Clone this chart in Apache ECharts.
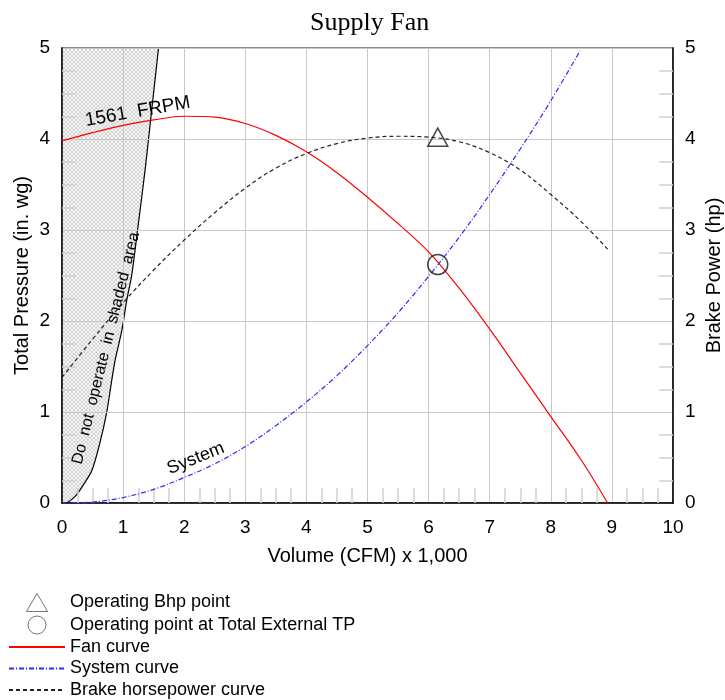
<!DOCTYPE html>
<html>
<head>
<meta charset="utf-8">
<script src="https://cdn.jsdelivr.net/npm/echarts@6/dist/echarts.min.js"></script>
<style>html,body{margin:0;padding:0;background:#fff}#c{width:725px;height:700px}</style>
</head>
<body>
<div id="c"></div>
<script>
// ---- data ----
const titleText = 'Supply Fan';
const fanVolume   = [0, 0.5, 1.0, 1.5, 2.0, 2.5, 3.0, 3.5, 4.0, 4.5, 5.0, 5.5, 6.0, 6.5, 7.0, 7.5, 8.0, 8.5, 8.93];
const fanPressure = [3.98, 4.07, 4.15, 4.21, 4.25, 4.24, 4.17, 4.04, 3.86, 3.63, 3.36, 3.07, 2.76, 2.36, 1.91, 1.43, 0.95, 0.47, 0];
const systemVolume   = [0, 0.5, 1.0, 1.5, 2.0, 2.5, 3.0, 3.5, 4.0, 4.5, 5.0, 5.5, 6.0, 6.5, 7.0, 7.5, 8.0, 8.48];
const systemPressure = [0, 0.01, 0.06, 0.15, 0.28, 0.43, 0.62, 0.85, 1.11, 1.40, 1.73, 2.09, 2.49, 2.92, 3.39, 3.89, 4.42, 4.97];
const bhpVolume = [0, 0.5, 1.0, 1.5, 2.0, 2.5, 3.0, 3.5, 4.0, 4.5, 5.0, 5.5, 6.0, 6.5, 7.0, 7.5, 8.0, 8.5, 8.93];
const bhpPower  = [1.38, 1.80, 2.20, 2.56, 2.89, 3.19, 3.46, 3.68, 3.84, 3.95, 4.01, 4.03, 4.02, 3.97, 3.85, 3.66, 3.39, 3.09, 2.79];
const limitVolume   = [0, 0.05, 0.21, 0.35, 0.49, 0.62, 0.73, 0.81, 0.87, 0.98, 1.06, 1.14, 1.25, 1.36, 1.47, 1.58];
const limitPressure = [0, 0, 0.07, 0.20, 0.36, 0.66, 0.99, 1.33, 1.57, 1.90, 2.23, 2.50, 3.07, 3.66, 4.33, 5.0];
const opBhpPoint = [6.15, 4.02];
const opTpPoint  = [6.15, 2.62];
const annotations = [
  { text: '1561  FRPM', x: 1.24, y: 4.30, rotate: 10, size: 19 },
  { text: 'Do  not  operate  in  shaded  area', x: 0.72, y: 1.70, rotate: 76, size: 16 },
  { text: 'System', x: 2.19, y: 0.49, rotate: 22, size: 18 }
];
const xName = 'Volume (CFM) x 1,000';
const yLeftName = 'Total Pressure (in. wg)';
const yRightName = 'Brake Power (hp)';
const legendNames = ['Operating Bhp point', 'Operating point at Total External TP', 'Fan curve', 'System curve', 'Brake horsepower curve'];

const zip = (a, b) => a.map((v, i) => [v, b[i]]);
const FONT = "'Liberation Sans', Arial, sans-serif";

function makePattern() {
  const c = document.createElement('canvas');
  c.width = 4; c.height = 4;
  const g = c.getContext('2d');
  g.fillStyle = '#f7f7f7'; g.fillRect(0, 0, 4, 4);
  g.fillStyle = '#d4d4d4';
  for (let i = 0; i < 4; i++) { g.fillRect(i, i, 1, 1); g.fillRect(3 - i, i, 1, 1); }
  return c;
}

const chart = echarts.init(document.getElementById('c'), null, { renderer: 'canvas' });

const valueAxisCommon = {
  type: 'value', min: 0, max: 5, interval: 1, z: 1,
  axisLine: { show: true, lineStyle: { color: '#000', width: 1.5 } },
  axisTick: { show: false, inside: true },
  minorTick: { show: true, splitNumber: 4, length: 14, lineStyle: { color: '#cfcfcf', width: 1.5 } },
  axisLabel: { color: '#000', fontSize: 19, fontFamily: FONT },
  nameLocation: 'middle', nameRotate: 90, nameMoveOverlap: false,
  nameTextStyle: { color: '#000', fontSize: 20, fontFamily: FONT }
};

const lineLegend = { itemStyle: { opacity: 0 } };

chart.setOption({
  animation: false,
  backgroundColor: '#fff',
  title: {
    text: titleText, left: 305, top: 5,
    textStyle: { fontFamily: "'Liberation Serif', 'Times New Roman', serif", fontWeight: 'normal', fontSize: 26, color: '#000' }
  },
  grid: { left: 62, right: 52, top: 48, bottom: 197, show: true, borderColor: '#666', borderWidth: 1.5, backgroundColor: 'transparent', containLabel: false, outerBoundsMode: 'none' },
  legend: {
    orient: 'vertical', left: 8, top: 593, padding: 0,
    itemWidth: 56, itemHeight: 18, itemGap: 3.5,
    data: [
      { name: legendNames[0], icon: 'path://M10,0 L20,17 L0,17 Z', itemStyle: { color: 'rgba(0,0,0,0)', borderColor: '#555', borderWidth: 1 } },
      { name: legendNames[1], icon: 'circle', itemStyle: { color: 'rgba(0,0,0,0)', borderColor: '#555', borderWidth: 1 } },
      Object.assign({ name: legendNames[2] }, lineLegend),
      Object.assign({ name: legendNames[3] }, lineLegend),
      Object.assign({ name: legendNames[4] }, lineLegend)
    ],
    textStyle: { color: '#000', fontSize: 18, fontFamily: FONT, lineHeight: 18 },
    selectedMode: false
  },
  xAxis: {
    type: 'value', min: 0, max: 10, interval: 1, z: 1,
    axisLine: { show: true, onZero: false, lineStyle: { color: '#000', width: 1.5 } },
    axisTick: { show: false, inside: true },
    minorTick: { show: true, splitNumber: 4, length: 15, lineStyle: { color: '#cfcfcf', width: 1.5 } },
    splitLine: { show: true, lineStyle: { color: '#c8c8c8', width: 1 } },
    axisLabel: { color: '#000', fontSize: 19, fontFamily: FONT, margin: 15 },
    name: xName, nameLocation: 'middle', nameGap: 43, nameMoveOverlap: false,
    nameTextStyle: { color: '#000', fontSize: 20, fontFamily: FONT }
  },
  yAxis: [
    Object.assign({}, valueAxisCommon, {
      position: 'left', name: yLeftName, nameGap: 30,
      splitLine: { show: true, lineStyle: { color: '#c8c8c8', width: 1 } },
      axisLabel: Object.assign({}, valueAxisCommon.axisLabel, { margin: 12 })
    }),
    Object.assign({}, valueAxisCommon, {
      position: 'right', name: yRightName, nameGap: 31,
      splitLine: { show: false },
      axisLabel: Object.assign({}, valueAxisCommon.axisLabel, { margin: 12 })
    })
  ],
  series: [
    {
      name: 'limit', type: 'line', data: zip(limitVolume, limitPressure),
      smooth: 0.3, symbol: 'none', z: 0,
      lineStyle: { color: '#000', width: 1.2 },
      areaStyle: { origin: 'end', color: { image: makePattern(), repeat: 'repeat' }, opacity: 1 }
    },
    {
      name: 'Fan curve', type: 'line', data: zip(fanVolume, fanPressure),
      smooth: 0.35, symbol: 'none', z: 3,
      lineStyle: { color: '#ff0000', width: 1.2 }, itemStyle: { color: '#ff0000' }
    },
    {
      name: 'System curve', type: 'line', data: zip(systemVolume, systemPressure),
      smooth: 0.35, symbol: 'none', z: 3,
      lineStyle: { color: '#2a2aff', width: 1.2, type: [5, 2, 1, 2] }, itemStyle: { color: '#2a2aff' }
    },
    {
      name: 'Brake horsepower curve', type: 'line', yAxisIndex: 1, data: zip(bhpVolume, bhpPower),
      smooth: 0.4, symbol: 'none', z: 3,
      lineStyle: { color: '#222', width: 1.2, type: [4, 3] }, itemStyle: { color: '#222' }
    },
    {
      name: 'Operating Bhp point', type: 'scatter', yAxisIndex: 1, data: [opBhpPoint],
      symbol: 'triangle', symbolSize: [20, 18], z: 5,
      itemStyle: { color: 'rgba(0,0,0,0)', borderColor: '#1a1a1a', borderWidth: 1.5 }
    },
    {
      name: 'Operating point at Total External TP', type: 'scatter', data: [opTpPoint],
      symbol: 'circle', symbolSize: 20, z: 5,
      itemStyle: { color: 'rgba(0,0,0,0)', borderColor: '#1a1a1a', borderWidth: 1.5 }
    },
    {
      name: 'annotations', type: 'scatter', z: 6, silent: true,
      symbolSize: 1, itemStyle: { color: 'rgba(0,0,0,0)' },
      data: annotations.map(a => ({
        value: [a.x, a.y],
        label: { show: true, position: 'inside', formatter: a.text, rotate: a.rotate, fontSize: a.size, fontFamily: FONT, color: '#000', textBorderWidth: 0, opacity: 1 }
      }))
    }
  ]
});
</script>
</body>
</html>
